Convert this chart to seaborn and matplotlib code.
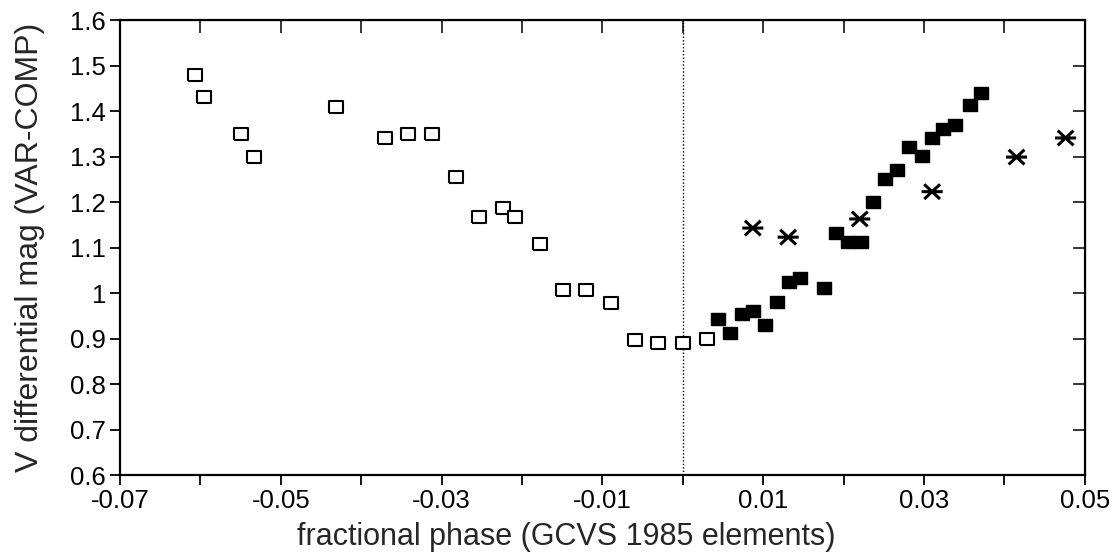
import numpy as np
import matplotlib
matplotlib.use("Agg")
import matplotlib.pyplot as plt
from matplotlib.path import Path
import seaborn as sns

# open squares (before/around minimum)
open_phase = [-0.0607, -0.0596, -0.0550, -0.0533, -0.0431, -0.0370, -0.0342, -0.0312,
              -0.0282, -0.0254, -0.0224, -0.0209, -0.0178, -0.0149, -0.0121, -0.0089,
              -0.0060, -0.0031, 0.0000, 0.0030]
open_mag = [1.48, 1.43, 1.35, 1.30, 1.41, 1.34, 1.35, 1.35,
            1.255, 1.167, 1.187, 1.167, 1.108, 1.007, 1.007, 0.978,
            0.897, 0.890, 0.890, 0.899]

# filled squares (rising branch)
filled_phase = [0.0044, 0.0059, 0.0073, 0.0087, 0.0102, 0.0117, 0.0132, 0.0146, 0.0175,
                0.0190, 0.0205, 0.0221, 0.0236, 0.0251, 0.0266, 0.0281, 0.0297, 0.0310,
                0.0323, 0.0338, 0.0357, 0.0371]
filled_mag = [0.943, 0.912, 0.954, 0.960, 0.930, 0.980, 1.024, 1.033, 1.011,
              1.132, 1.112, 1.112, 1.200, 1.251, 1.270, 1.321, 1.301, 1.342,
              1.360, 1.369, 1.413, 1.440]

# asterisks
star_phase = [0.0087, 0.0131, 0.0220, 0.0310, 0.0415, 0.0476]
star_mag = [1.143, 1.123, 1.163, 1.223, 1.299, 1.341]

x_ticks = [-0.07, -0.06, -0.05, -0.04, -0.03, -0.02, -0.01, 0.0, 0.01, 0.02, 0.03, 0.04, 0.05]
x_labels = ["-0.07", "", "-0.05", "", "-0.03", "", "-0.01", "", "0.01", "", "0.03", "", "0.05"]
y_ticks = [0.6, 0.7, 0.8, 0.9, 1.0, 1.1, 1.2, 1.3, 1.4, 1.5, 1.6]
y_labels = ["0.6", "0.7", "0.8", "0.9", "1", "1.1", "1.2", "1.3", "1.4", "1.5", "1.6"]

sns.set_style("ticks")
plt.rcParams["font.family"] = ["Liberation Sans", "DejaVu Sans"]

fig = plt.figure(figsize=(11.15, 5.59), dpi=100)
ax = fig.add_axes([0.1076, 0.150, 0.8654, 0.814])

# wide rectangle marker and a "horizontal bar + X" asterisk
rect = np.array([[-1.3, -1], [1.3, -1], [1.3, 1], [-1.3, 1], [-1.3, -1]])
aster = Path([(-1, 0), (1, 0), (-0.75, -0.7), (0.75, 0.7), (-0.75, 0.7), (0.75, -0.7)],
             [Path.MOVETO, Path.LINETO, Path.MOVETO, Path.LINETO, Path.MOVETO, Path.LINETO])

sns.scatterplot(x=open_phase, y=open_mag, marker=rect, s=115, facecolor="white",
                edgecolor="black", linewidth=1.5, ax=ax, zorder=3)
sns.scatterplot(x=filled_phase, y=filled_mag, marker=rect, s=115, facecolor="black",
                edgecolor="black", linewidth=1.0, ax=ax, zorder=3)
sns.scatterplot(x=star_phase, y=star_mag, marker=aster, s=230, facecolor="none",
                edgecolor="black", linewidth=2.2, ax=ax, zorder=3)

ax.axvline(0, color="black", linestyle=(0, (1, 1.5)), linewidth=1.0, zorder=1)

ax.set_xlim(-0.07, 0.05)
ax.set_ylim(0.6, 1.6)
ax.set_xticks(x_ticks, x_labels)
ax.set_yticks(y_ticks, y_labels)
ax.tick_params(direction="out", length=7, width=1.3, labelsize=18.5, pad=3, colors="black")

for sp in ax.spines.values():
    sp.set_visible(True)
    sp.set_linewidth(1.6)
    sp.set_color("black")

top = ax.secondary_xaxis("top")
top.set_xticks(x_ticks)
top.tick_params(direction="in", length=9, width=1.3, labeltop=False)
right = ax.secondary_yaxis("right")
right.set_yticks(y_ticks)
right.tick_params(direction="in", length=9, width=1.3, labelright=False)

ax.set_xlabel("fractional phase (GCVS 1985 elements)", fontsize=22)
ax.xaxis.set_label_coords(0.463, -0.102)
ax.set_ylabel("V differential mag (VAR-COMP)", fontsize=23, labelpad=18)

fig.savefig("out.png", dpi=100, facecolor="white")
plt.close(fig)
